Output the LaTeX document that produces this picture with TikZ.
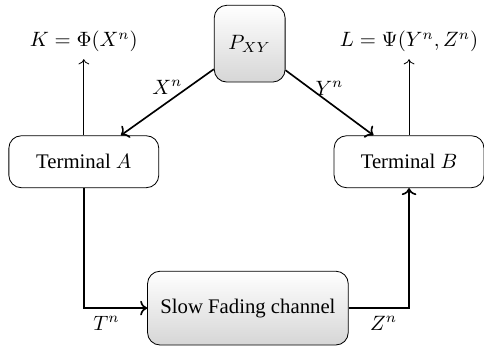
\documentclass[tikz,border=0pt]{standalone}
\usepackage{amsmath,amssymb}
\usepackage{fontspec}
\setmainfont{Liberation Serif}
\usepackage{tikz}
\usetikzlibrary{arrows.meta,positioning}
\definecolor{shadegray}{HTML}{D6D6D6}

\begin{document}
\begin{tikzpicture}[
 term/.style={draw,rounded corners=6pt,minimum width=2.54cm,minimum height=0.88cm},
 shadebox/.style={draw,rounded corners=6pt,top color=white,bottom color=shadegray},
 link/.style={->,thick},
]
\useasboundingbox (0,0) rectangle (8.2,-5.88);
\node[shadebox,minimum width=1.2cm,minimum height=1.3cm] (p) at (4.23,-0.74) {$P_{XY}$};
\node[term] (ta) at (1.42,-2.74) {Terminal $A$};
\node[term] (tb) at (6.93,-2.74) {Terminal $B$};
\node[shadebox,minimum width=3.4cm,minimum height=1.25cm] (ch) at (4.2,-5.22) {Slow Fading channel};
\node[above=1.29cm of ta] (k) {$K=\Phi(X^n)$};
\node[above=1.29cm of tb] (l) {$L=\Psi(Y^n,Z^n)$};
\draw[link] (p) -- node[above] {$X^n$} (ta);
\draw[link] (p) -- node[above] {$Y^n$} (tb);
\draw[->] (ta) -- (k);
\draw[->] (tb) -- (l);
\draw[link] (ta) |- node[below,pos=0.68] {$T^n$} (ch);
\draw[link] (ch) -| node[below,pos=0.29] {$Z^n$} (tb);
\end{tikzpicture}
\end{document}
